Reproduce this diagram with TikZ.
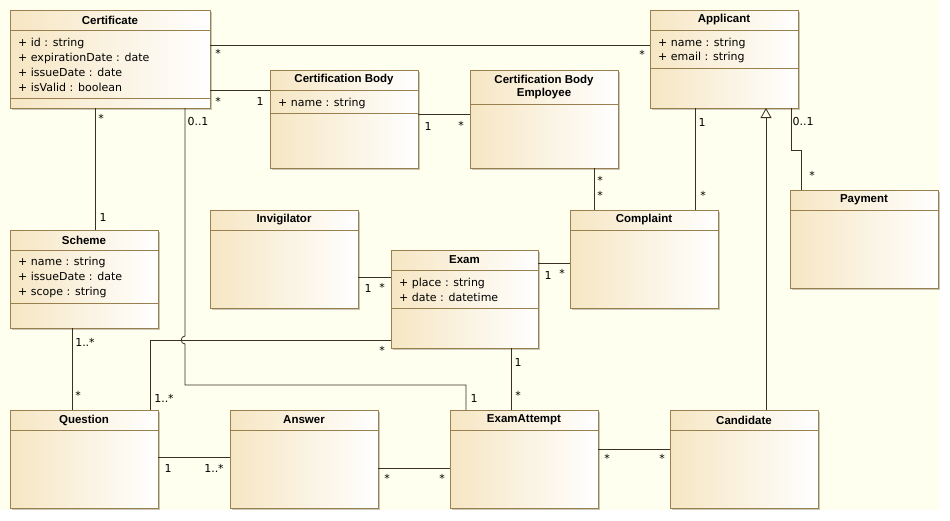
\documentclass[tikz,border=0pt]{standalone}
\usepackage{fontspec}
\setmainfont{DejaVu Sans}
\newfontfamily\titlefont{Liberation Sans}
\usetikzlibrary{arrows.meta,shadows}

\definecolor{paper}{HTML}{FFFFEF}
\definecolor{boxtan}{HTML}{F6E6C3}
\definecolor{boxline}{HTML}{9A804F}
\definecolor{wire}{HTML}{3A3022}

\tikzset{
  cls/.style={draw=boxline, line width=0.9pt, left color=boxtan, right color=white,
    drop shadow={shadow xshift=2pt, shadow yshift=-2pt, fill=black, opacity=0.22},
    inner sep=0pt, outer sep=0pt, minimum width=148pt, minimum height=98pt},
  ctitle/.style={font=\titlefont\bfseries\fontsize{11.5}{13}\selectfont, inner sep=0pt, align=center},
  attr/.style={font=\fontsize{11}{13}\selectfont, inner sep=0pt, anchor=base west},
  sepline/.style={draw=boxline, line width=0.9pt},
  assoc/.style={draw=wire, line width=0.8pt},
  mult/.style={font=\fontsize{11}{13}\selectfont, inner sep=0pt},
  general/.style={assoc, -{Triangle[open, length=10pt, width=11pt]}}
}

\begin{document}
\begin{tikzpicture}[x=1pt,y=-1pt]
\fill[white] (0,0) rectangle (950,520);
\fill[paper] (0,0) rectangle (940,510);
\useasboundingbox (0,0) rectangle (950,520);

% ---------- classes ----------
\node[cls, minimum width=200pt] (cert) at (110,59) {};
\node[cls] (cb)       at (344,119) {};
\node[cls] (cbe)      at (544,119) {};
\node[cls] (app)      at (724,59)  {};
\node[cls] (pay)      at (864,239) {};
\node[cls] (scheme)   at (84,279)  {};
\node[cls] (invig)    at (284,259) {};
\node[cls, minimum width=147pt] (exam) at (464.5,299) {};
\node[cls] (compl)    at (644,259) {};
\node[cls] (question) at (84,459)  {};
\node[cls] (answer)   at (304,459) {};
\node[cls] (attempt)  at (524,459) {};
\node[cls] (cand)     at (744,459) {};

% header separators
\foreach \c in {cert,cb,app,pay,scheme,invig,exam,compl,question,answer,attempt,cand}
  \draw[sepline] ([yshift=-20pt]\c.north west) -- ([yshift=-20pt]\c.north east);
\draw[sepline] ([yshift=-34pt]cbe.north west) -- ([yshift=-34pt]cbe.north east);

% attribute compartments
\draw[sepline] ([yshift=-88pt]cert.north west) -- ([yshift=-88pt]cert.north east);
\draw[sepline] ([yshift=-43pt]cb.north west) -- ([yshift=-43pt]cb.north east);
\draw[sepline] ([yshift=-58pt]app.north west) -- ([yshift=-58pt]app.north east);
\draw[sepline] ([yshift=-73pt]scheme.north west) -- ([yshift=-73pt]scheme.north east);
\draw[sepline] ([yshift=-58pt]exam.north west) -- ([yshift=-58pt]exam.north east);

% titles
\node[ctitle] at ([yshift=-10pt]cert.north) {Certificate};
\node[ctitle] at ([yshift=-10pt]cb.north) {Certification Body};
\node[ctitle] at ([yshift=-17pt]cbe.north) {Certification Body\\Employee};
\node[ctitle] at ([yshift=-10pt]app.north) {Applicant};
\node[ctitle] at ([yshift=-10pt]pay.north) {Payment};
\node[ctitle] at ([yshift=-10pt]scheme.north) {Scheme};
\node[ctitle] at ([yshift=-10pt]invig.north) {Invigilator};
\node[ctitle] at ([yshift=-10pt]exam.north) {Exam};
\node[ctitle] at ([yshift=-10pt]compl.north) {Complaint};
\node[ctitle] at ([yshift=-10pt]question.north) {Question};
\node[ctitle] at ([yshift=-10pt]answer.north) {Answer};
\node[ctitle] at ([yshift=-10pt]attempt.north) {ExamAttempt};
\node[ctitle] at ([yshift=-10pt]cand.north) {Candidate};

% attributes
\node[attr] at (18,46) {+ id : string};
\node[attr] at (18,61) {+ expirationDate : date};
\node[attr] at (18,76) {+ issueDate : date};
\node[attr] at (18,91) {+ isValid : boolean};
\node[attr] at (278,106) {+ name : string};
\node[attr] at (658,46) {+ name : string};
\node[attr] at (658,60) {+ email : string};
\node[attr] at (18,265) {+ name : string};
\node[attr] at (18,280) {+ issueDate : date};
\node[attr] at (18,295) {+ scope : string};
\node[attr] at (399,286) {+ place : string};
\node[attr] at (399,301) {+ date : datetime};

% ---------- associations ----------
\draw[assoc] (cert.east |- 0,45) -- (app.west |- 0,45);
\draw[assoc] (cert.east |- 0,90) -- (cb.west |- 0,90);
\draw[assoc] (cb.east |- 0,114) -- (cbe.west |- 0,114);
\draw[assoc] (cert.south -| 95,0) -- (scheme.north -| 95,0);
\draw[assoc] (cert.south -| 185,0) -- (185,336)
  .. controls (180,336) and (180,344) .. (185,344)
  -- (185,385) -- (466,385) -- (attempt.north -| 466,0);
\draw[assoc] (exam.west |- 0,340) -| (question.north -| 150,0);
\draw[assoc] (scheme.south -| 72,0) -- (question.north -| 72,0);
\draw[assoc] (invig.east |- 0,277) -- (exam.west |- 0,277);
\draw[assoc] (exam.east |- 0,263) -- (compl.west |- 0,263);
\draw[assoc] (cbe.south -| 594,0) -- (compl.north -| 594,0);
\draw[assoc] (app.south -| 695,0) -- (compl.north -| 695,0);
\draw[assoc] (app.south -| 791,0) -- (791,150) -| (pay.north -| 801,0);
\draw[assoc] (exam.south -| 511,0) -- (attempt.north -| 511,0);
\draw[assoc] (question.east |- 0,457) -- (answer.west |- 0,457);
\draw[assoc] (answer.east |- 0,468) -- (attempt.west |- 0,468);
\draw[assoc] (attempt.east |- 0,449) -- (cand.west |- 0,449);
\draw[general] (cand.north -| 766,0) -- (app.south -| 766,0);

% ---------- multiplicities ----------
\node[mult] at (218,53) {*};
\node[mult] at (642,54) {*};
\node[mult] at (218,101) {*};
\node[mult] at (260,101) {1};
\node[mult] at (101,118) {*};
\node[mult] at (103,217) {1};
\node[mult] at (198,121) {0..1};
\node[mult] at (474,398) {1};
\node[mult] at (428,126) {1};
\node[mult] at (461,125) {*};
\node[mult] at (600,180) {*};
\node[mult] at (600,195) {*};
\node[mult] at (702,122) {1};
\node[mult] at (703,195) {*};
\node[mult] at (803,121) {0..1};
\node[mult] at (812,175) {*};
\node[mult] at (85,342) {1..*};
\node[mult] at (78,395) {*};
\node[mult] at (368,288) {1};
\node[mult] at (382,287) {*};
\node[mult] at (548,275) {1};
\node[mult] at (562,273) {*};
\node[mult] at (382,350) {*};
\node[mult] at (164,398) {1..*};
\node[mult] at (518,362) {1};
\node[mult] at (518,395) {*};
\node[mult] at (168,468) {1};
\node[mult] at (214,468) {1..*};
\node[mult] at (387,478) {*};
\node[mult] at (442,478) {*};
\node[mult] at (607,458) {*};
\node[mult] at (662,458) {*};
\end{tikzpicture}
\end{document}
